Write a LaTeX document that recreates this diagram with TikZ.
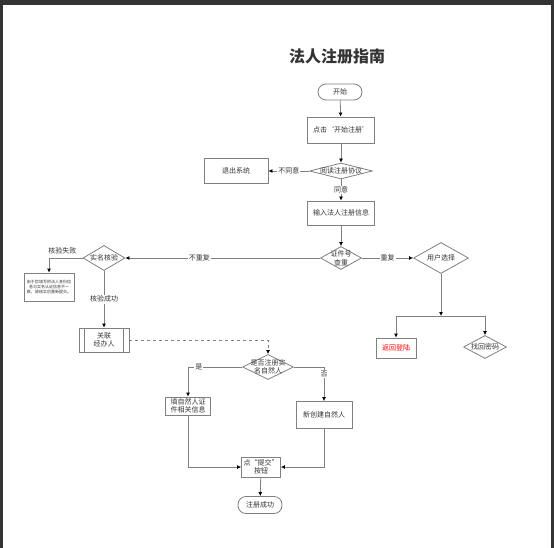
\documentclass[tikz,border=0pt]{standalone}
\usepackage{fontspec}
\setmainfont{Noto Sans CJK SC}
\usetikzlibrary{shapes.geometric,arrows.meta}

\begin{document}
\begin{tikzpicture}[x=1pt,y=-1pt,
		font=\fontsize{7}{8.5}\selectfont, text=black!80,
		box/.style n args={2}{draw=gray, line width=0.8pt, inner sep=1pt, align=center, minimum width=#1, minimum height=#2},
		term/.style n args={2}{box={#1}{#2}, rounded corners=8pt},
		dia/.style n args={3}{diamond, draw=gray, line width=0.8pt, inner sep=0pt, minimum width=#1, minimum height=#2, label={[align=center]center:#3}},
		flow/.style={draw=gray, line width=0.8pt},
		arr/.style={-{Latex[black, length=4pt, width=4pt]}},
		lbl/.style={fill=white, inner sep=1pt}]
	% frame
	\fill[black!80] (0,0) rectangle (554,548);
	\fill[white] (3,5) rectangle (551,548);
	\node[font=\bfseries\fontsize{16}{18}\selectfont] (title) at (337,56) {法人注册指南};
	% main column
	\node[term={44pt}{16pt}] (start) at (340,92) {开始};
	\node[box={67pt}{26pt}] (click) at (341,130) {点击‘开始注册’};
	\node[dia={63pt}{16pt}{阅读注册协议}] (read) at (341,171) {};
	\node[box={64pt}{25pt}] (quit) at (236,171) {退出系统};
	\node[box={67pt}{24pt}] (input) at (341,213) {输入法人注册信息};
	\node[dia={41pt}{23pt}{证件号\\查重}] (check) at (341,258) {};
	% right branch
	\node[dia={55pt}{31pt}{用户选择}] (choose) at (441,258) {};
	\coordinate (fork) at (441,316);
	\node[box={40pt}{20pt}, text=red] (back) at (396,348) {返回登陆};
	\node[dia={43pt}{23pt}{找回密码}] (find) at (485,347) {};
	% left branch
	\node[dia={42pt}{25pt}{实名核验}] (real) at (104,258) {};
	\node[box={50pt}{28pt}, font=\fontsize{4}{5}\selectfont] (fail) at (49,287) {由于您填写的法人身份信\\息与实名认证信息不一\\致，请核实后重新提交。};
	\node[box={50pt}{24pt}] (link) at (104,340) {关联\\经办人};
	\draw[flow] ([xshift=6pt]link.north west) -- ([xshift=6pt]link.south west)
		([xshift=-6pt]link.north east) -- ([xshift=-6pt]link.south east);
	% bottom part
	\node[dia={51pt}{25pt}{是否注册实\\名自然人}] (reg) at (268,367) {};
	\node[box={45pt}{18pt}] (fill) at (188,406) {填自然人证\\件相关信息};
	\node[box={56pt}{27pt}] (new) at (324,415) {新创建自然人};
	\node[box={39pt}{20pt}] (submit) at (261,467) {点“提交”\\按钮};
	\node[term={44pt}{17pt}] (done) at (260,505) {注册成功};

	\path[flow, arr]
	(start) edge (click)
	(click) edge (read)
	(read) edge node[lbl] {不同意} (quit)
	(read) edge node[lbl] {同意} (input)
	(input) edge (check)
	(check) edge node[lbl] {重复} (choose)
	(choose) edge (fork)
	(check) edge node[lbl, pos=0.62] {不重复} (real)
	(real) edge node[lbl] {核验成功} (link)
	(submit) edge (done);
	\draw[flow, arr] (fork) -| (back);
	\draw[flow, arr] (fork) -| (find);
	\draw[flow, arr] (real.west) -| node[pos=0.3, above] {核验失败} (fail.north);
	\draw[flow, dashed, arr] (link.east) -| (reg.north);
	\draw[flow, arr] (reg.west) -| node[lbl, pos=0.4] {是} (fill.north);
	\draw[flow, arr] (reg.east) -| node[lbl, pos=0.6] {否} (new.north);
	\draw[flow, arr] (fill.south) |- (submit.west);
	\draw[flow, arr] (new.south) |- (submit.east);
\end{tikzpicture}
\end{document}
